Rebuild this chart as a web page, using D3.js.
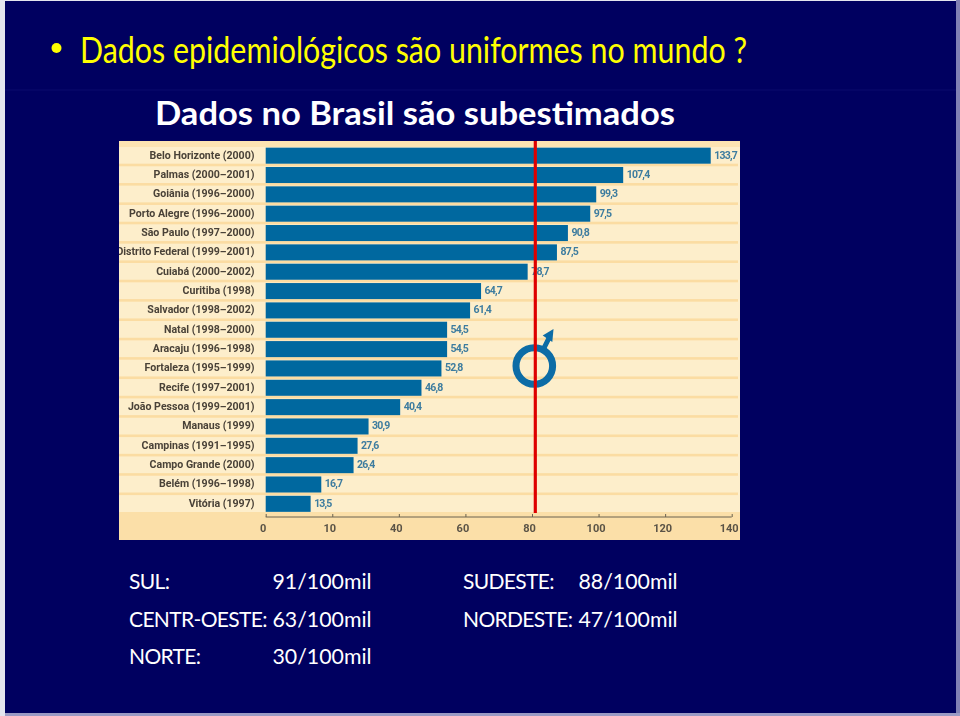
<!DOCTYPE html>
<html>
<head>
<meta charset="utf-8">
<script src="https://cdn.jsdelivr.net/npm/d3@7"></script>
<style>
  html, body { margin: 0; padding: 0; background: #e4e5ee; }
  svg { display: block; }
  text { font-family: Lato, sans-serif; }
</style>
</head>
<body>
<svg id="chart" width="960" height="716"></svg>
<script>
// rates per 100 mil
var cities = ["Belo Horizonte (2000)", "Palmas (2000–2001)", "Goiânia (1996–2000)", "Porto Alegre (1996–2000)",
  "São Paulo (1997–2000)", "Distrito Federal (1999–2001)", "Cuiabá (2000–2002)", "Curitiba (1998)",
  "Salvador (1998–2002)", "Natal (1998–2000)", "Aracaju (1996–1998)", "Fortaleza (1995–1999)",
  "Recife (1997–2001)", "João Pessoa (1999–2001)", "Manaus (1999)", "Campinas (1991–1995)",
  "Campo Grande (2000)", "Belém (1996–1998)", "Vitória (1997)"];
var rates = [133.7, 107.4, 99.3, 97.5, 90.8, 87.5, 78.7, 64.7, 61.4, 54.5, 54.5, 52.8, 46.8, 40.4, 30.9, 27.6, 26.4, 16.7, 13.5];
var tickValues = [0, 20, 40, 60, 80, 100, 120, 140];
var tickLabels = ["0", "10", "40", "60", "80", "100", "120", "140"]; // the source really prints 10 under 20
var refLine = 81;

var leftRegions = [["SUL:", "91/100mil"], ["CENTR-OESTE:", "63/100mil"], ["NORTE:", "30/100mil"]];
var rightRegions = [["SUDESTE:", "88/100mil"], ["NORDESTE:", "47/100mil"]];

var svg = d3.select("#chart");

// slide edges
svg.append("rect").attr("x", 956).attr("y", 0).attr("width", 4).attr("height", 716).attr("fill", "#8080b4");
svg.append("rect").attr("x", 5).attr("y", 713).attr("width", 955).attr("height", 3).attr("fill", "#9a9ac4");
svg.append("rect").attr("x", 5).attr("y", 1).attr("width", 951).attr("height", 712).attr("fill", "#000060");
svg.append("line").attr("x1", 5).attr("x2", 956).attr("y1", 90).attr("y2", 90).attr("stroke", "#0a0a6c");

// headings
svg.append("circle").attr("cx", 56.5).attr("cy", 48).attr("r", 5).attr("fill", "#ffff00");
svg.append("text").attr("x", 80).attr("y", 63).attr("fill", "#ffff00")
  .style("font-size", "36px")
  .attr("textLength", 667).attr("lengthAdjust", "spacingAndGlyphs")
  .text("Dados epidemiológicos são uniformes no mundo ?");
svg.append("text").attr("x", 155).attr("y", 125).attr("fill", "#ffffff")
  .style("font-size", "32px").style("font-weight", 700)
  .attr("textLength", 520).attr("lengthAdjust", "spacingAndGlyphs")
  .text("Dados no Brasil são subestimados");

// the bar chart panel
var defs = svg.append("defs");
defs.append("filter").attr("id", "soft").append("feGaussianBlur").attr("stdDeviation", 0.45);
defs.append("clipPath").attr("id", "panel").append("rect")
  .attr("x", 119).attr("y", 141).attr("width", 621).attr("height", 399);

var g = svg.append("g").attr("clip-path", "url(#panel)").append("g").attr("filter", "url(#soft)");

g.append("rect").attr("x", 119).attr("y", 141).attr("width", 621).attr("height", 399).attr("fill", "#fdeecb");
g.append("rect").attr("x", 119).attr("y", 141).attr("width", 621).attr("height", 6).attr("fill", "#fce3b2");
g.append("rect").attr("x", 119).attr("y", 512).attr("width", 621).attr("height", 28).attr("fill", "#fbdfa8");

var x = d3.scaleLinear().domain([0, 140]).range([265.7, 731.7]);
var y = d3.scaleBand().domain(cities).range([146, 513.5]).paddingInner(0.17).paddingOuter(0.085);

// row separators
g.selectAll("rect.sep").data(cities.slice(1)).join("rect").attr("class", "sep")
  .attr("x", 119).attr("width", 619).attr("height", 2.6)
  .attr("y", function(d) { return y(d) - 3.3; })
  .attr("fill", "#fbdca2");

g.selectAll("rect.bar").data(rates).join("rect").attr("class", "bar")
  .attr("x", x(0))
  .attr("y", function(d, i) { return y(cities[i]); })
  .attr("width", function(d) { return x(d) - x(0); })
  .attr("height", y.bandwidth())
  .attr("fill", "#05689f");

g.selectAll("text.city").data(cities).join("text").attr("class", "city")
  .attr("x", 254.5)
  .attr("y", function(d) { return y(d) + y.bandwidth() / 2 + 3; })
  .attr("text-anchor", "end")
  .attr("fill", "#4a4238")
  .style("font-family", "Roboto").style("font-size", "10.6px").style("font-weight", 700)
  .text(function(d) { return d; });

g.selectAll("text.val").data(rates).join("text").attr("class", "val")
  .attr("x", function(d) { return x(d) + 3.5; })
  .attr("y", function(d, i) { return y(cities[i]) + y.bandwidth() / 2 + 3; })
  .attr("fill", "#3d7c9f")
  .style("font-family", "Roboto").style("font-size", "10.5px").style("font-weight", 700).style("letter-spacing", "-0.8px")
  .text(function(d) { return String(d).replace(".", ","); });

// axis
var axis = g.append("g").attr("transform", "translate(0,517)")
  .call(d3.axisBottom(x).tickValues(tickValues).tickSize(-3).tickPadding(7)
    .tickFormat(function(d, i) { return tickLabels[i]; }));
axis.select(".domain").attr("stroke", "#6b6350").attr("stroke-width", 1).attr("d", "M" + x(0) + ",0H" + x(140));
axis.selectAll("line").attr("stroke", "#6b6350");
axis.selectAll("text").attr("fill", "#5a5346")
  .style("font-family", "Roboto").style("font-size", "11px").style("font-weight", 700)
  .attr("dx", -3);

// reference line and the male symbol on top of it
var sym = g.append("g").attr("fill", "none").attr("stroke", "#0a6ca6");
sym.append("circle").attr("cx", 534.3).attr("cy", 366).attr("r", 18.3).attr("stroke-width", 7);
sym.append("line").attr("x1", 543).attr("y1", 350).attr("x2", 549).attr("y2", 338).attr("stroke-width", 5);
g.append("path").attr("d", "M542.7,335.5L553.5,329L552.3,342Z").attr("fill", "#0a6ca6");
g.append("line").attr("x1", x(refLine)).attr("x2", x(refLine)).attr("y1", 141).attr("y2", 513)
  .attr("stroke", "#de0606").attr("stroke-width", 3.2);

// regional rates under the panel
function regionRows(rows, labelX, valueX) {
  var row = svg.append("g").selectAll("g").data(rows).join("g")
    .attr("transform", function(d, i) { return "translate(0," + (589 + i * 37.5) + ")"; });
  row.append("text").attr("x", labelX).attr("fill", "#fff")
    .style("font-size", "21px").style("letter-spacing", "-0.65px").text(function(d) { return d[0]; });
  row.append("text").attr("x", valueX).attr("fill", "#fff")
    .style("font-size", "21.3px").text(function(d) { return d[1]; });
}
regionRows(leftRegions, 129, 272.5);
regionRows(rightRegions, 463, 578.5);
</script>
</body>
</html>
